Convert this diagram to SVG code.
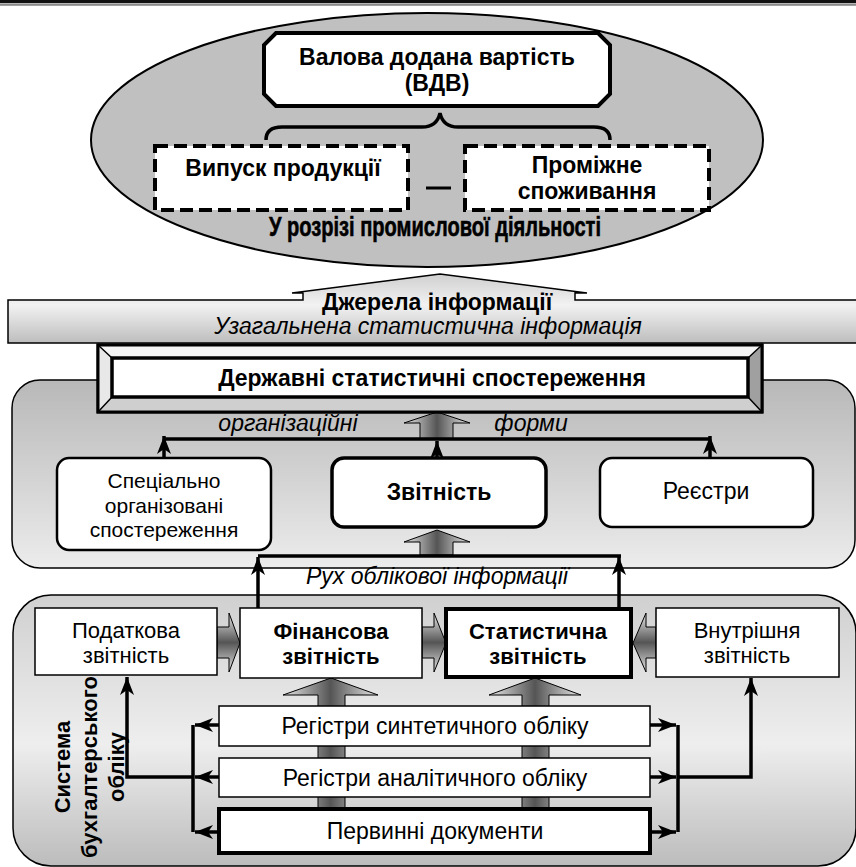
<svg xmlns="http://www.w3.org/2000/svg" width="856" height="867" viewBox="0 0 856 867">
<defs>
<style>
text{font-family:"Liberation Sans",Arial,sans-serif;fill:#000;text-anchor:middle;font-size:23px}
.b{font-weight:bold}
.i{font-style:italic}
.s{font-size:22px}
.box{fill:#fff;stroke:#000}
.ln{fill:none;stroke:#000;stroke-width:3.5}
.blk{stroke:#000;stroke-width:1}
</style>
<linearGradient id="gBand" gradientUnits="userSpaceOnUse" x1="0" y1="274" x2="0" y2="343"><stop offset="0" stop-color="#cfcfcf"/><stop offset="0.45" stop-color="#f2f2f2"/><stop offset="1" stop-color="#bdbdbd"/></linearGradient>
<linearGradient id="gMid" x1="0" y1="0" x2="0" y2="1"><stop offset="0" stop-color="#b8b8b8"/><stop offset="1" stop-color="#ececec"/></linearGradient>
<linearGradient id="gBot" x1="0" y1="0" x2="0" y2="1"><stop offset="0" stop-color="#d0d0d0"/><stop offset="0.55" stop-color="#eeeeee"/><stop offset="1" stop-color="#bcbcbc"/></linearGradient>
<linearGradient id="gV" x1="0" y1="0" x2="1" y2="0"><stop offset="0" stop-color="#e6e6e6"/><stop offset="0.5" stop-color="#555"/><stop offset="1" stop-color="#e6e6e6"/></linearGradient>
<linearGradient id="gH" x1="0" y1="0" x2="0" y2="1"><stop offset="0" stop-color="#e6e6e6"/><stop offset="0.5" stop-color="#555"/><stop offset="1" stop-color="#e6e6e6"/></linearGradient>
<marker id="ah" viewBox="-20 -8 22 16" refX="0" refY="0" markerWidth="22" markerHeight="16" markerUnits="userSpaceOnUse" orient="auto">
<path d="M0,0 L-18,-7 L-13,0 L-18,7 Z" fill="#000"/>
</marker>
</defs>

<rect x="0" y="0" width="856" height="3.3" fill="#111"/>
<rect x="0" y="4" width="856" height="1.8" fill="#8a8a8a"/>

<g id="ellipse-group">
<ellipse cx="427" cy="140" rx="336" ry="127" fill="#c0c0c0" stroke="#000" stroke-width="2"/>
</g>

<g id="vdv">
<path d="M276,33 L598,33 L610,45 L610,94 L598,106 L276,106 L264,94 L264,45 Z" class="box" stroke-width="4"/>
<text class="b" x="437" y="65">Валова додана вартість</text>
<text class="b" x="437" y="91">(ВДВ)</text>
</g>

<g id="brace">
<path d="M266,140 Q266,127 282,127 L422,127 Q437,127 440,113 Q443,127 458,127 L594,127 Q610,127 610,140" class="ln"/>
</g>

<g id="output">
<rect x="155" y="146" width="253" height="64" fill="#fff" stroke="#000" stroke-width="4" stroke-dasharray="13 6"/>
<text class="b" x="283" y="176">Випуск продукції</text>
</g>
<g id="minus"><line x1="426" y1="188" x2="451" y2="188" stroke="#000" stroke-width="3"/></g>
<g id="intermediate">
<rect x="465" y="146" width="244" height="64" fill="#fff" stroke="#000" stroke-width="4" stroke-dasharray="13 6"/>
<text class="b" x="587" y="173">Проміжне</text>
<text class="b" x="587" y="199">споживання</text>
</g>
<g id="industry-label">
<text class="b" x="435" y="236" style="font-size:28px;font-family:'Liberation Sans Narrow','Liberation Sans',sans-serif;stroke:#000;stroke-width:0.6" textLength="332" lengthAdjust="spacingAndGlyphs">У розрізі промислової діяльності</text>
</g>

<g id="sources">
<path d="M8,300 L303,300 L303,293 L292,293 L440,274 L587,293 L575,293 L575,300 L860,300 L860,343 L8,343 Z" fill="url(#gBand)" stroke="#000" stroke-width="1.5"/>
<text class="b" x="437" y="310">Джерела інформації</text>
<text class="i" x="428" y="334">Узагальнена статистична інформація</text>
</g>

<g id="mid-panel">
<rect x="12" y="380" width="843" height="188" rx="28" fill="url(#gMid)" stroke="#000" stroke-width="1.5"/>
</g>

<g id="bottom-panel">
<rect x="13" y="595" width="843" height="271" rx="38" fill="url(#gBot)" stroke="#000" stroke-width="1.5"/>
<text class="b s" transform="translate(70,767) rotate(-90)">Система</text>
<text class="b s" transform="translate(97,767) rotate(-90)">бухгалтерського</text>
<text class="b s" transform="translate(124,767) rotate(-90)">обліку</text>
</g>

<g id="connectors">
<path d="M420,439 L420,423 L404,423 L437,412 L470,423 L453,423 L453,439 Z" fill="url(#gV)" class="blk"/>
<path d="M420,555 L420,542 L404,542 L437,530 L470,542 L453,542 L453,555 Z" fill="url(#gV)" class="blk"/>
<path d="M164,439 L710,439" class="ln" stroke-width="3"/>
<path d="M164,458 L164,436" class="ln" stroke-width="3" marker-end="url(#ah)"/>
<path d="M437,458 L437,441" class="ln" stroke-width="3" marker-end="url(#ah)"/>
<path d="M710,458 L710,436" class="ln" stroke-width="3" marker-end="url(#ah)"/>
<path d="M258,556 L621,556" class="ln" stroke-width="4"/>
<path d="M258,608 L258,557" class="ln" marker-end="url(#ah)"/>
<path d="M619,608 L619,557" class="ln" marker-end="url(#ah)"/>
<path d="M318,809 L318,695 L283,695 L331,678 L378,695 L345,695 L345,809 Z" fill="url(#gV)" class="blk"/>
<path d="M522,809 L522,695 L489,695 L535,678 L581,695 L549,695 L549,809 Z" fill="url(#gV)" class="blk"/>
<path d="M217,627 L229,627 L229,613 L240,643 L229,672 L229,658 L217,658 Z" fill="url(#gH)" class="blk"/>
<path d="M422,627 L434,627 L434,613 L446,643 L434,672 L434,658 L422,658 Z" fill="url(#gH)" class="blk"/>
<path d="M656,627 L646,627 L646,613 L633,643 L646,672 L646,658 L656,658 Z" fill="url(#gH)" class="blk"/>
<path d="M193,725 L193,832" class="ln"/>
<path d="M219,725 L195,725" class="ln" marker-end="url(#ah)"/>
<path d="M219,777 L195,777" class="ln" marker-end="url(#ah)"/>
<path d="M219,832 L195,832" class="ln" marker-end="url(#ah)"/>
<path d="M193,777 L127,777 L127,677" class="ln" marker-end="url(#ah)"/>
<path d="M678,725 L678,832" class="ln"/>
<path d="M650,725 L676,725" class="ln" marker-end="url(#ah)"/>
<path d="M650,777 L676,777" class="ln" marker-end="url(#ah)"/>
<path d="M650,832 L676,832" class="ln" marker-end="url(#ah)"/>
<path d="M678,777 L751,777 L751,678" class="ln" marker-end="url(#ah)"/>
</g>

<g id="state-obs">
<rect x="98" y="345" width="664" height="67" fill="#fff" stroke="#000" stroke-width="3"/>
<polygon points="98,345 762,345 748,358 112,358" fill="#f4f4f4"/>
<polygon points="98,345 112,358 112,397 98,412" fill="#e8e8e8"/>
<polygon points="762,345 748,358 748,397 762,412" fill="#a0a0a0"/>
<polygon points="98,412 112,397 748,397 762,412" fill="#cfcfcf"/>
<path d="M98,345 L112,358 M762,345 L748,358 M98,412 L112,397 M762,412 L748,397" stroke="#000" stroke-width="1.5"/>
<rect x="98" y="345" width="664" height="67" fill="none" stroke="#000" stroke-width="3"/>
<rect x="112" y="358" width="636" height="39" fill="#fff" stroke="#000" stroke-width="3.5"/>
<text class="b" x="432" y="386">Державні статистичні спостереження</text>
</g>

<g id="org-forms-label">
<text class="i" x="288" y="431">організаційні</text>
<text class="i" x="531" y="431">форми</text>
</g>

<g id="special">
<rect x="57" y="458" width="214" height="92" rx="12" class="box" stroke-width="2.5"/>
<text x="164" y="488" style="font-size:21px">Спеціально</text>
<text x="164" y="512.5" style="font-size:21px">організовані</text>
<text x="164" y="537" style="font-size:21px">спостереження</text>
</g>
<g id="reporting">
<rect x="332" y="458" width="214" height="69" rx="12" class="box" stroke-width="3.5"/>
<text class="b" x="439" y="500">Звітність</text>
</g>
<g id="registers">
<rect x="600" y="458" width="213" height="69" rx="12" class="box" stroke-width="2.5"/>
<text x="706" y="499">Реєстри</text>
</g>

<g id="flow-label">
<text class="i" x="437" y="584">Рух облікової інформації</text>
</g>

<g id="tax">
<rect x="35" y="608" width="182" height="67" class="box" stroke-width="1.5"/>
<text class="s" x="126" y="638">Податкова</text>
<text class="s" x="126" y="663">звітність</text>
</g>
<g id="financial">
<rect x="240" y="608" width="182" height="70" class="box" stroke-width="1.5"/>
<text class="b s" x="331" y="639">Фінансова</text>
<text class="b s" x="331" y="664">звітність</text>
</g>
<g id="statistical">
<rect x="446" y="609" width="185" height="68" class="box" stroke-width="4"/>
<text class="b s" x="538" y="639">Статистична</text>
<text class="b s" x="538" y="664">звітність</text>
</g>
<g id="internal">
<rect x="656" y="608" width="183" height="69" class="box" stroke-width="1.5"/>
<text class="s" x="747" y="638">Внутрішня</text>
<text class="s" x="747" y="663">звітність</text>
</g>

<g id="synthetic">
<rect x="219" y="706" width="431" height="40" class="box" stroke-width="1.5"/>
<text x="435" y="734">Регістри синтетичного обліку</text>
</g>
<g id="analytic">
<rect x="219" y="758" width="431" height="39" class="box" stroke-width="1.5"/>
<text x="435" y="786">Регістри аналітичного обліку</text>
</g>
<g id="primary">
<rect x="219" y="809" width="431" height="44" class="box" stroke-width="4"/>
<text x="435" y="839">Первинні документи</text>
</g>
</svg>
